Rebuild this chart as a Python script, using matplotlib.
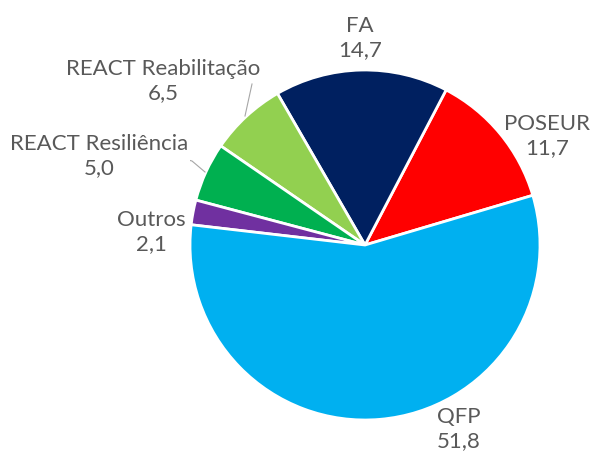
import matplotlib
matplotlib.use('Agg')
from matplotlib import pyplot as plt

labels = ['POSEUR', 'FA', 'REACT Reabilitação', 'REACT Resiliência', 'Outros', 'QFP']
values = [11.7, 14.7, 6.5, 5.0, 2.1, 51.8]
value_text = ['11,7', '14,7', '6,5', '5,0', '2,1', '51,8']
colors = ['#FF0000', '#002060', '#92D050', '#00B050', '#7030A0', '#00B0F0']

# label block centres in pixels (x, y from top) of the 590x452 picture
label_px = [(547, 136), (360, 38), (163, 81), (99, 156), (151, 232), (459, 429)]

W, H = 590, 452
cx, cy, R = 365, 246, 175


def to_data(px, py):
    return (px - cx) / R, (cy - py) / R


fig = plt.figure(figsize=(W / 100, H / 100), dpi=100)
ax = fig.add_axes([(cx - R) / W, (H - cy - R) / H, 2 * R / W, 2 * R / H])

ax.pie(values, colors=colors, startangle=16.5, counterclock=True,
       wedgeprops=dict(edgecolor='white', linewidth=2))

for name, val, (px, py) in zip(labels, value_text, label_px):
    x, y = to_data(px, py)
    ax.text(x, y, name + '\n' + val, ha='center', va='center',
            fontsize=16, color='#595959', family='Lato',
            linespacing=1.25)

# leader lines
for pts in [[(252, 85), (245, 117)],
            [(180, 159), (192, 162), (205, 173)]]:
    xs, ys = zip(*[to_data(px, py) for px, py in pts])
    ax.plot(xs, ys, color='#A6A6A6', linewidth=0.8)

ax.set_xlim(-1, 1)
ax.set_ylim(-1, 1)
ax.set_aspect('auto')
ax.axis('off')

fig.savefig('out.png', dpi=100)
